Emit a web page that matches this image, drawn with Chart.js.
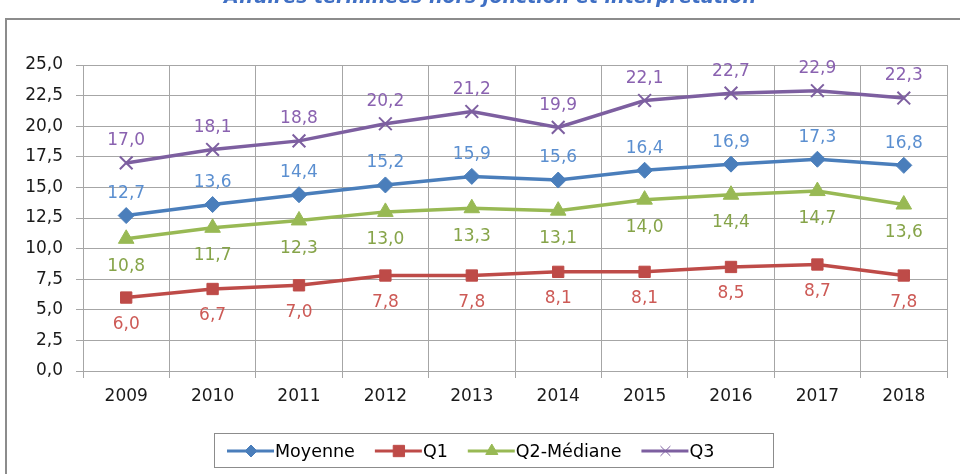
<!DOCTYPE html>
<html>
<head>
<meta charset="utf-8">
<script src="https://cdn.jsdelivr.net/npm/chart.js@4/dist/chart.umd.min.js"></script>
<style>
  body { margin: 0; background: #fff; }
  #wrap { width: 960px; height: 474px; }
</style>
</head>
<body>
<div id="wrap"><canvas id="Affaires" width="960" height="474"></canvas></div>
<script>
var annees = ['2009', '2010', '2011', '2012', '2013', '2014', '2015', '2016', '2017', '2018'];
var moyenne = [12.7, 13.6, 14.4, 15.2, 15.9, 15.6, 16.4, 16.9, 17.3, 16.8];
var q1 = [6.0, 6.7, 7.0, 7.8, 7.8, 8.1, 8.1, 8.5, 8.7, 7.8];
var q2 = [10.8, 11.7, 12.3, 13.0, 13.3, 13.1, 14.0, 14.4, 14.7, 13.6];
var q3 = [17.0, 18.1, 18.8, 20.2, 21.2, 19.9, 22.1, 22.7, 22.9, 22.3];
var titre = 'Affaires terminées hors jonction et interprétation';

var police = '"DejaVu Sans", sans-serif';

function virgule(v) {
    return v.toFixed(1).replace('.', ',');
}

// cadre + titre
var cadre = {
    id: 'cadre',
    beforeDraw: function (chart) {
        var ctx = chart.ctx;
        ctx.save();
        ctx.strokeStyle = '#8c8c8c';
        ctx.lineWidth = 2;
        ctx.beginPath();
        ctx.moveTo(6, 474);
        ctx.lineTo(6, 19);
        ctx.lineTo(960, 19);
        ctx.stroke();
        ctx.fillStyle = '#3f6fc4';
        ctx.font = 'italic bold 20px ' + police;
        var w = ctx.measureText(titre).width;
        var taille = Math.round(20 * 545 / w);
        ctx.font = 'italic bold ' + taille + 'px ' + police;
        ctx.textAlign = 'center';
        ctx.textBaseline = 'alphabetic';
        ctx.fillText(titre, 490, 3);
        ctx.restore();
    }
};

// etiquettes de donnees
var etiquettes = {
    id: 'etiquettes',
    afterDatasetsDraw: function (chart) {
        var ctx = chart.ctx;
        ctx.save();
        ctx.font = '17px ' + police;
        ctx.textAlign = 'center';
        ctx.textBaseline = 'middle';
        chart.data.datasets.forEach(function (ds, i) {
            var meta = chart.getDatasetMeta(i);
            ctx.fillStyle = ds.labelColor;
            meta.data.forEach(function (pt, j) {
                ctx.fillText(virgule(ds.data[j]), pt.x, pt.y + ds.labelOffset);
            });
        });
        ctx.restore();
    }
};

// legende encadree
var legende = {
    id: 'legende',
    afterDraw: function (chart) {
        var ctx = chart.ctx;
        ctx.save();
        ctx.strokeStyle = '#8c8c8c';
        ctx.lineWidth = 1;
        ctx.strokeRect(214.5, 433.5, 559, 34);
        ctx.font = '17.5px ' + police;
        ctx.textBaseline = 'middle';
        var x = 227;
        var y = 451;
        var tailles = { rectRot: 6, rect: 8, triangle: 7, crossRot: 7 };
        chart.data.datasets.forEach(function (ds) {
            ctx.strokeStyle = ds.borderColor;
            ctx.fillStyle = ds.borderColor;
            ctx.lineWidth = 3;
            ctx.beginPath();
            ctx.moveTo(x, y);
            ctx.lineTo(x + 47, y);
            ctx.stroke();
            ctx.lineWidth = 1;
            Chart.helpers.drawPoint(ctx, {
                pointStyle: ds.pointStyle,
                radius: tailles[ds.pointStyle],
                borderWidth: ds.pointStyle === 'crossRot' ? 1.5 : 1
            }, x + 24, y);
            ctx.fillStyle = '#000';
            ctx.fillText(ds.label, x + 48, y + 1);
            x += 48 + ctx.measureText(ds.label).width + 20;
        });
        ctx.restore();
    }
};

function serie(label, data, couleur, texte, forme, rayon, decalage) {
    return {
        label: label,
        data: data,
        borderColor: couleur,
        backgroundColor: couleur,
        pointBackgroundColor: couleur,
        pointBorderColor: couleur,
        borderWidth: 3.5,
        pointStyle: forme,
        pointRadius: rayon,
        pointBorderWidth: forme === 'crossRot' ? 2 : 1,
        tension: 0,
        labelColor: texte,
        labelOffset: decalage
    };
}

var chartdata = {
    labels: annees,
    datasets: [
        serie('Moyenne', moyenne, '#4a7ebb', '#5b8fd0', 'rectRot', 8, -22),
        serie('Q1', q1, '#be4b48', '#cd5a56', 'rect', 8, 27),
        serie('Q2-Médiane', q2, '#98b954', '#86a449', 'triangle', 9, 28),
        serie('Q3', q3, '#7d5fa0', '#8a62b0', 'crossRot', 9, -22)
    ]
};

new Chart(document.getElementById('Affaires'), {
    type: 'line',
    data: chartdata,
    plugins: [cadre, etiquettes, legende],
    options: {
        responsive: false,
        animation: false,
        layout: { padding: { left: 0, top: 65, right: 13, bottom: 0 } },
        plugins: {
            legend: { display: false },
            tooltip: { enabled: false }
        },
        scales: {
            x: {
                offset: true,
                grid: {
                    offset: true,
                    color: '#a6a6a6',
                    lineWidth: 1,
                    tickLength: 7
                },
                border: { color: '#a6a6a6' },
                ticks: {
                    color: '#1a1a1a',
                    font: { family: police, size: 17 },
                    padding: 8
                },
                afterFit: function (s) { s.height = 103; }
            },
            y: {
                min: 0,
                max: 25,
                grid: {
                    color: '#a6a6a6',
                    lineWidth: 1,
                    tickLength: 7
                },
                border: { color: '#a6a6a6' },
                ticks: {
                    stepSize: 2.5,
                    color: '#1a1a1a',
                    font: { family: police, size: 17 },
                    padding: 13,
                    callback: function (v) { return virgule(v); }
                },
                afterFit: function (s) { s.width = 83; }
            }
        }
    }
});
</script>
</body>
</html>
